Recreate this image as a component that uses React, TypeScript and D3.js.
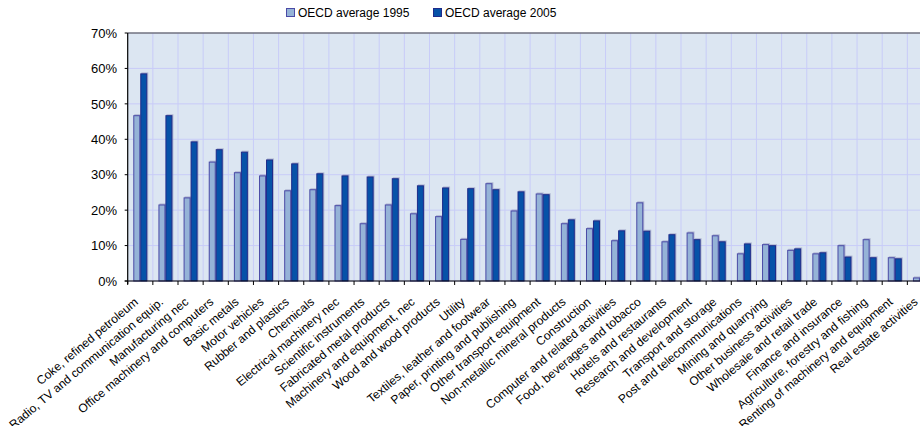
import React from "react";
import * as d3 from "d3";

const categories = [
  "Coke, refined petroleum",
  "Radio, TV and communication equip.",
  "Manufacturing nec",
  "Office machinery and computers",
  "Basic metals",
  "Motor vehicles",
  "Rubber and plastics",
  "Chemicals",
  "Electrical machinery nec",
  "Scientific instruments",
  "Fabricated metal products",
  "Machinery and equipment, nec",
  "Wood and wood products",
  "Utility",
  "Textiles, leather and footwear",
  "Paper, printing and publishing",
  "Other transport equipment",
  "Non-metallic mineral products",
  "Construction",
  "Computer and related activities",
  "Food, beverages and tobacco",
  "Hotels and restaurants",
  "Research and development",
  "Transport and storage",
  "Post and telecommunications",
  "Mining and quarrying",
  "Other business activities",
  "Wholesale and retail trade",
  "Finance and insurance",
  "Agriculture, forestry and fishing",
  "Renting of machinery and equipment",
  "Real estate activities",
];

const values1995 = [
  46.8, 21.6, 23.6, 33.7, 30.7, 29.8, 25.6, 25.9, 21.4, 16.3, 21.6, 19.1, 18.3,
  11.9, 27.6, 19.9, 24.7, 16.3, 14.9, 11.5, 22.2, 11.2, 13.7, 12.9, 7.8, 10.4,
  8.8, 7.8, 10.1, 11.8, 6.7, 1.0,
];

const values2005 = [
  58.6, 46.8, 39.4, 37.2, 36.5, 34.3, 33.2, 30.4, 29.8, 29.5, 29.0, 27.0, 26.4,
  26.2, 25.9, 25.3, 24.5, 17.4, 17.1, 14.3, 14.2, 13.2, 11.8, 11.2, 10.6, 10.1,
  9.2, 8.1, 6.9, 6.7, 6.4, 1.2,
];

const seriesNames = ["OECD average 1995", "OECD average 2005"];
const yTicks = [0, 10, 20, 30, 40, 50, 60, 70];

const W = 920;
const H = 426;
const left = 127.7;
const top = 33;
const bottom = 281;
const step = 25.15;
const right = left + step * categories.length;

const fills = ["#95b3d7", "#0652a8"];
const strokes = ["#4a4aa6", "#1f2b8a"];

export default function App() {
  const x = d3.scaleBand<string>().domain(categories).range([left, right]).padding(0);
  const xs = d3
    .scaleBand<string>()
    .domain(seriesNames)
    .range([0, x.bandwidth()])
    .paddingInner(0)
    .paddingOuter(0.8);
  const y = d3.scaleLinear().domain([0, 70]).range([bottom, top]);
  const font = "Liberation Sans, Arial, sans-serif";
  const series = [values1995, values2005];

  return (
    <div style={{ position: "fixed", left: 0, top: 0, width: W, height: H, overflow: "hidden", background: "#fff" }}>
      <svg width={W} height={H} style={{ display: "block" }}>
        {/* plot background */}
        <rect x={left} y={top} width={right - left} height={bottom - top} fill="#dce6f2" />
        {/* horizontal gridlines */}
        {yTicks.map((t) => (
          <line key={"h" + t} x1={left} x2={right} y1={y(t)} y2={y(t)} stroke="#c8ccf8" strokeWidth={1} />
        ))}
        {/* vertical gridlines */}
        {categories.map((c, i) =>
          i === 0 ? null : (
            <line key={"v" + c} x1={x(c)!} x2={x(c)!} y1={top} y2={bottom} stroke="#c8ccf8" strokeWidth={1} />
          )
        )}
        {/* bars */}
        {categories.map((c, i) =>
          seriesNames.map((s, k) => {
            const v = series[k][i];
            const bx = x(c)! + xs(s)!;
            const bw = xs.bandwidth();
            const by = y(v);
            return (
              <g key={c + s}>
                <rect x={bx + 1} y={by - 1} width={bw} height={bottom - by + 1} fill="#8a8fb8" opacity={0.55} />
                <rect
                  x={bx + 0.5}
                  y={by + 0.5}
                  width={bw - 1}
                  height={Math.max(0, bottom - by - 0.5)}
                  fill={fills[k]}
                  stroke={strokes[k]}
                  strokeWidth={1}
                />
              </g>
            );
          })
        )}
        {/* top border */}
        <line x1={left} x2={right} y1={top} y2={top} stroke="#444" strokeWidth={1.2} />
        {/* y axis */}
        <line x1={left} x2={left} y1={top} y2={bottom + 3} stroke="#000" strokeWidth={1.2} />
        {yTicks.map((t) => (
          <g key={"yt" + t}>
            <line x1={left - 3} x2={left} y1={y(t)} y2={y(t)} stroke="#000" />
            <text x={117} y={y(t)} dy="0.36em" textAnchor="end" fontFamily={font} fontSize={13} fill="#000">
              {t}%
            </text>
          </g>
        ))}
        {/* x axis */}
        <line x1={left - 3} x2={right} y1={bottom} y2={bottom} stroke="#000" strokeWidth={1.2} />
        {categories.map((c) => (
          <line key={"xt" + c} x1={x(c)!} x2={x(c)!} y1={bottom} y2={bottom + 4} stroke="#000" />
        ))}
        {categories.map((c) => {
          const cx = x(c)! + x.bandwidth() / 2;
          return (
            <text
              key={"xl" + c}
              transform={`translate(${cx - 4},${bottom + 19}) rotate(-40)`}
              dy="0.35em"
              textAnchor="end"
              fontFamily={font}
              fontSize={12}
              fill="#000"
            >
              {c}
            </text>
          );
        })}
        {/* legend */}
        {seriesNames.map((s, k) => {
          const lx = k === 0 ? 286 : 433;
          return (
            <g key={"lg" + s}>
              <rect x={lx + 0.5} y={8.5} width={8} height={8} fill={fills[k]} stroke={strokes[k]} />
              <text x={lx + 12} y={17} fontFamily={font} fontSize={12} fill="#000">
                {s}
              </text>
            </g>
          );
        })}
      </svg>
    </div>
  );
}
